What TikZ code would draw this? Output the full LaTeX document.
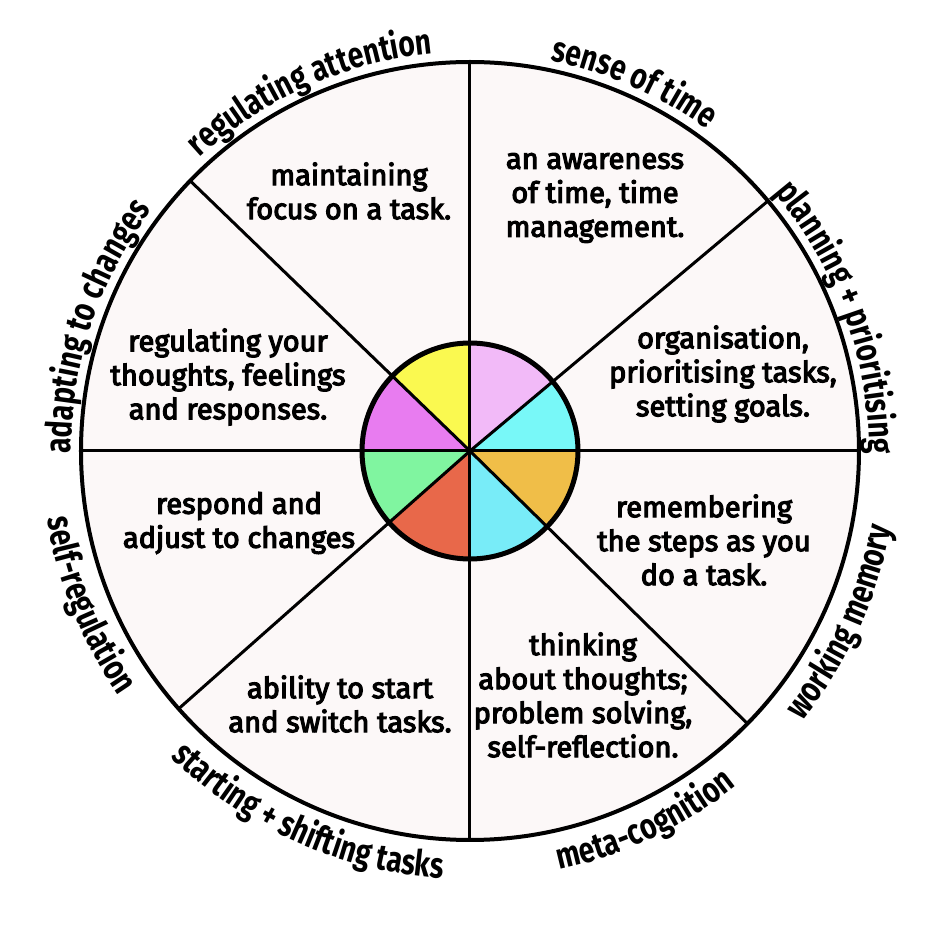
\documentclass[tikz,border=0pt]{standalone}
\usepackage{fontspec}
\setmainfont{Fira Sans}
\newfontfamily\descfont{Fira Sans}[FakeBold=4]
\newfontfamily\rimfont{Fira Sans}[FakeStretch=0.78]
\usepackage{tikz}
\usetikzlibrary{decorations.text,positioning}

\definecolor{wheelbg}{RGB}{252,248,248}
\definecolor{pielilac}{RGB}{242,186,248}
\definecolor{pieaqua}{RGB}{120,248,248}
\definecolor{pieorange}{RGB}{240,190,72}
\definecolor{piesky}{RGB}{120,236,248}
\definecolor{piered}{RGB}{232,104,74}
\definecolor{piegreen}{RGB}{128,245,160}
\definecolor{piemagenta}{RGB}{232,124,240}
\definecolor{pieyellow}{RGB}{250,249,80}

\tikzset{
  desc/.style={align=center, font=\descfont\fontsize{14.5}{17}\selectfont},
  spoke/.style={line width=1.5pt, black},
  rimlabel/.style={decorate, decoration={text along path, text align=center,
    text={|\rimfont\bfseries\fontsize{18}{18}\selectfont|#1}}}
}

\begin{document}
\begin{tikzpicture}[x=0.5pt, y=0.5pt]
\fill[white] (-470,-475) rectangle (474,451);
\useasboundingbox (-470,-475) rectangle (474,451);
\coordinate (hub) at (0,0);
% wheel
\fill[wheelbg] (hub) circle[radius=389];
\draw[spoke] (hub) -- (90:389);
\draw[spoke] (hub) -- (40:389);
\draw[spoke] (hub) -- (0:389);
\draw[spoke] (hub) -- (-44.5:389);
\draw[spoke] (hub) -- (-90:389);
\draw[spoke] (hub) -- (-138.5:389);
\draw[spoke] (hub) -- (180:389);
\draw[spoke] (hub) -- (136:389);
% centre pie
\fill[pielilac] (hub) -- (40:108) arc[start angle=40, end angle=90, radius=108] -- cycle;
\fill[pieaqua] (hub) -- (0:108) arc[start angle=0, end angle=40, radius=108] -- cycle;
\fill[pieorange] (hub) -- (-44.5:108) arc[start angle=-44.5, end angle=0, radius=108] -- cycle;
\fill[piesky] (hub) -- (-90:108) arc[start angle=-90, end angle=-44.5, radius=108] -- cycle;
\fill[piered] (hub) -- (-138.5:108) arc[start angle=-138.5, end angle=-90, radius=108] -- cycle;
\fill[piegreen] (hub) -- (180:108) arc[start angle=180, end angle=221.5, radius=108] -- cycle;
\fill[piemagenta] (hub) -- (136:108) arc[start angle=136, end angle=180, radius=108] -- cycle;
\fill[pieyellow] (hub) -- (90:108) arc[start angle=90, end angle=136, radius=108] -- cycle;
\draw[spoke] (90:108) -- (-90:108);
\draw[spoke] (0:108) -- (180:108);
\draw[spoke] (40:108) -- (hub);
\draw[spoke] (136:108) -- (hub);
\draw[spoke] (-44.5:108) -- (hub);
\draw[spoke] (-138.5:108) -- (hub);
\draw[line width=2.5pt] (hub) circle[radius=108];
\draw[line width=2pt] (hub) circle[radius=389];
% descriptions
\node[desc] (attn) at (-121,260) {maintaining\\focus on a task.};
\node[desc] (time) at (125,253) {an awareness\\of time, time\\management.};
\node[desc] (plan) at (253,77) {organisation,\\prioritising tasks,\\setting goals.};
\node[desc] (memo) at (234,-89) {remembering\\the steps as you\\do a task.};
\node[desc] (meta) at (113,-244) {thinking\\about thoughts;\\problem solving,\\self-reflection.};
\node[desc] (shift) at (-130,-253) {ability to start\\and switch tasks.};
\node[desc] (adapt) at (-231,-72) {respond and\\adjust to changes};
\node[desc] (selfreg) at (-242,74) {regulating your\\thoughts, feelings\\and responses.};
% rim labels
\path[rimlabel={adapting to changes}] (206.6:399) arc[start angle=206.6, end angle=116.6, radius=399];
\path[rimlabel={regulating attention}] (159:399) arc[start angle=159, end angle=69, radius=399];
\path[rimlabel={sense of time}] (111:399) arc[start angle=111, end angle=21, radius=399];
\path[rimlabel={planning + prioritising}] (65:399) arc[start angle=65, end angle=-25, radius=399];
\path[rimlabel={working memory}] (-69.7:428) arc[start angle=-69.7, end angle=20.3, radius=428];
\path[rimlabel={meta-cognition}] (-109.7:428) arc[start angle=-109.7, end angle=-19.7, radius=428];
\path[rimlabel={starting + shifting tasks}] (-159:428) arc[start angle=-159, end angle=-69, radius=428];
\path[rimlabel={self-regulation}] (-203:428) arc[start angle=-203, end angle=-113, radius=428];
\end{tikzpicture}
\end{document}
